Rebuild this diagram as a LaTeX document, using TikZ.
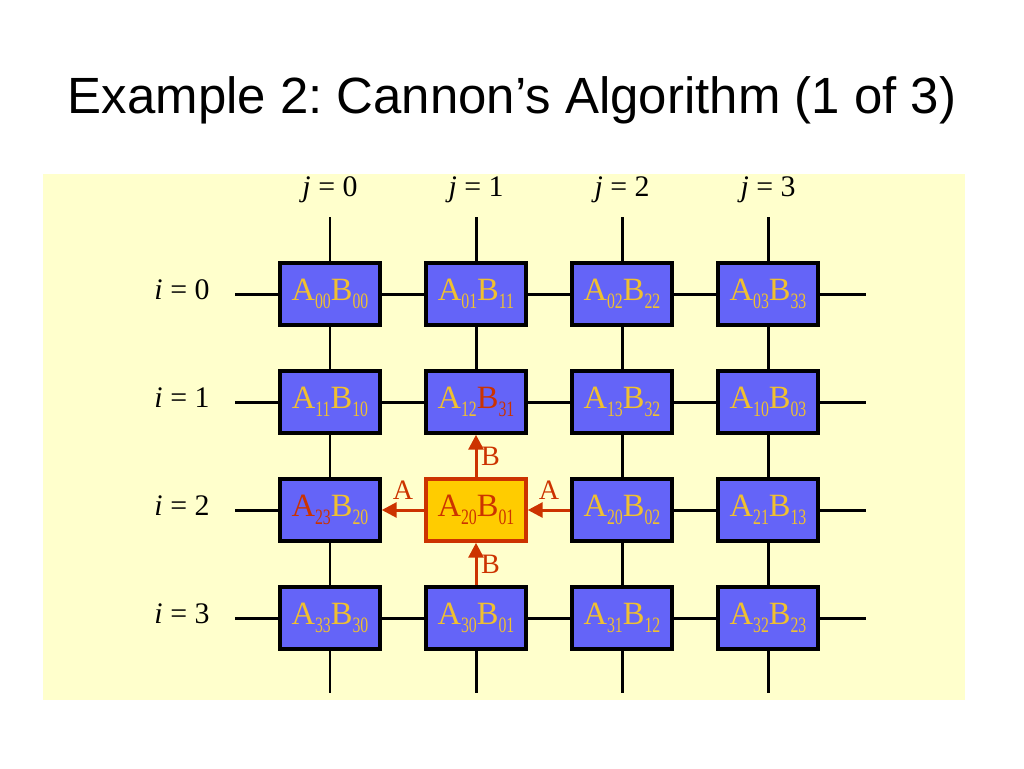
\documentclass[tikz,border=0pt]{standalone}
\usepackage{fontspec}
\setmainfont{Liberation Serif}
\newfontfamily\titlefont{Liberation Sans}
\usepackage{tikz}
\usetikzlibrary{arrows.meta}

\definecolor{paper}{HTML}{FFFFCC}
\definecolor{cellblue}{HTML}{6464F8}
\definecolor{gold}{HTML}{F0C030}
\definecolor{shiftred}{HTML}{CC3300}
\definecolor{pivot}{HTML}{FFCC00}

\newcommand{\idx}[1]{\raisebox{-0.5ex}{\fontsize{12.5}{12.5}\selectfont\scalebox{0.72}[1]{#1}}}

\tikzset{
  cell/.style={draw=black, fill=cellblue, line width=2pt, minimum width=2cm,
               minimum height=1.24cm, inner sep=0pt, font=\fontsize{18.5}{18.5}\selectfont},
  pivotcell/.style={cell, draw=shiftred, fill=pivot},
  wire/.style={black, line width=1.7pt},
  shiftarrow/.style={shiftred, line width=1.7pt, -{Triangle[length=8.5pt, width=8.5pt]}},
  shiftlbl/.style={text=shiftred, font=\fontsize{16}{16}\selectfont, inner sep=2pt},
  idxlbl/.style={font=\fontsize{17}{17}\selectfont}
}

\begin{document}
\begin{tikzpicture}[x=0.02cm, y=-0.02cm]

  \useasboundingbox (0, 0) rectangle (1024, 768);
  \fill[white] (0, 0) rectangle (1024, 768);
  \fill[paper] (43, 174) rectangle (965, 700);

  \node[anchor=base, font=\titlefont\fontsize{29}{29}\selectfont] (title) at (512, 113)
    {Example 2:\ Cannon’s Algorithm (1 of 3)};

  \pgfmathsetmacro{\dx}{146}
  \pgfmathsetmacro{\dy}{108}

  \foreach \r/\c/\ai/\ac/\bi/\bc/\sty in {0/0/00/gold/00/gold/cell, 0/1/01/gold/11/gold/cell,
                                        0/2/02/gold/22/gold/cell, 0/3/03/gold/33/gold/cell,
                                        1/0/11/gold/10/gold/cell, 1/1/12/gold/31/shiftred/cell,
                                        1/2/13/gold/32/gold/cell, 1/3/10/gold/03/gold/cell,
                                        2/0/23/shiftred/20/gold/cell, 2/1/20/shiftred/01/shiftred/pivotcell,
                                        2/2/20/gold/02/gold/cell, 2/3/21/gold/13/gold/cell,
                                        3/0/33/gold/30/gold/cell, 3/1/30/gold/01/gold/cell,
                                        3/2/31/gold/12/gold/cell, 3/3/32/gold/23/gold/cell} {
    \node[\sty] (p\r\c) at ({330 + \c * \dx}, {294 + \r * \dy})
      {\textcolor{\ac}{A\idx{\ai}}\textcolor{\bc}{B\idx{\bi}}};
  }

  \foreach \r in {0, ..., 3} {
    \node[idxlbl] (i\r) at (182, {290 + \r * \dy}) {{\itshape i} = \r};
    \coordinate (w\r) at (235, {294 + \r * \dy});
    \coordinate (e\r) at (866, {294 + \r * \dy});
    \draw[wire] (w\r) -- (p\r0);
    \draw[wire] (p\r3) -- (e\r);
  }

  \foreach \c in {0, ..., 3} {
    \node[idxlbl] (j\c) at ({330 + \c * \dx}, 190) {{\itshape j} = \c};
    \coordinate (n\c) at ({330 + \c * \dx}, 217);
    \coordinate (s\c) at ({330 + \c * \dx}, 693);
    \draw[wire] (n\c) -- (p0\c);
    \draw[wire] (p3\c) -- (s\c);
  }

  \foreach \r in {0, 1, 3}
    \foreach \c/\d in {0/1, 1/2, 2/3}
      \draw[wire] (p\r\c) -- (p\r\d);
  \draw[wire] (p22) -- (p23);

  \foreach \c in {0, 2, 3}
    \foreach \r/\s in {0/1, 1/2, 2/3}
      \draw[wire] (p\r\c) -- (p\s\c);
  \draw[wire] (p01) -- (p11);

  \draw[shiftarrow] (p21) -- node[above=3pt, shiftlbl] (a1) {A} (p20);
  \draw[shiftarrow] (p22) -- node[above=3pt, shiftlbl] (a2) {A} (p21);
  \draw[shiftarrow] (p21) -- node[right, shiftlbl] (b1) {B} (p11);
  \draw[shiftarrow] (p31) -- node[right, shiftlbl] (b2) {B} (p21);

\end{tikzpicture}
\end{document}
